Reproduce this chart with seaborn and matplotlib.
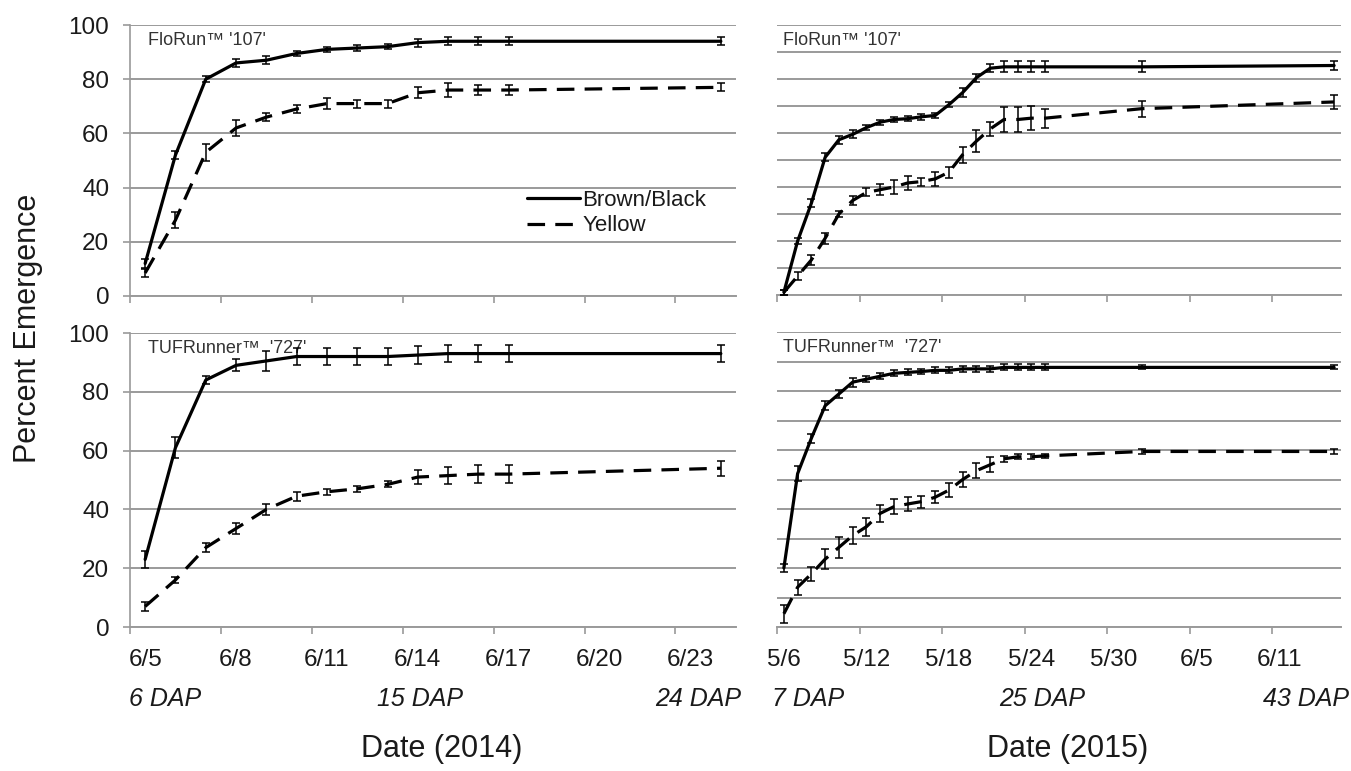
import numpy as np
import pandas as pd
import matplotlib
matplotlib.use('Agg')
import matplotlib.pyplot as plt
from matplotlib.lines import Line2D
from matplotlib.ticker import FixedLocator
import seaborn as sns

sns.set_style("white")
plt.rcParams['font.family'] = ['Liberation Sans', 'DejaVu Sans']

# ---- data (x = day index from the first date of each season) ----
# 2014: 6/5 ... 6/17 daily, then 6/24
days_2014 = [0, 1, 2, 3, 4, 5, 6, 7, 8, 9, 10, 11, 12, 19]
ticks_2014 = ['6/5', '6/8', '6/11', '6/14', '6/17', '6/20', '6/23']

florun14_bb = [12, 52, 80, 86, 87, 89.5, 91, 91.5, 92, 93.5, 94, 94, 94, 94]
florun14_bb_err = [1.5, 1.5, 1, 1.5, 1.5, 1, 1, 1, 1, 1.5, 1.5, 1.5, 1.5, 1.5]
florun14_y = [8.5, 28, 53, 62, 66, 69, 71, 71, 71, 75, 76, 76, 76, 77]
florun14_y_err = [1.5, 3, 3, 3, 1.5, 1.5, 2, 1.5, 1.5, 2, 2.5, 2, 2, 1.5]

tuf14_bb = [23, 61, 84, 89, 90.5, 92, 92, 92, 92, 92.5, 93, 93, 93, 93]
tuf14_bb_err = [3, 3.5, 1.5, 2, 3.5, 3, 3, 3, 3, 3, 3, 3, 3, 3]
tuf14_y = [7, 16, 27, 33.5, 40, 44.5, 46, 47, 48.5, 51, 51.5, 52, 52, 54]
tuf14_y_err = [1.5, 1, 1.5, 2, 2, 1.5, 1, 1, 1, 2.5, 3, 3, 3, 2.5]

# 2015: 5/6 ... 5/25 daily, then 6/1 and 6/15
days_2015 = list(range(20)) + [26, 40]
ticks_2015 = ['5/6', '5/12', '5/18', '5/24', '5/30', '6/5', '6/11']

florun15_bb = [1, 20, 34, 51, 57.5, 59.5, 62, 64, 65, 65.3, 66, 66.5, 70.5, 75,
               80.5, 84, 84.5, 84.5, 84.5, 84.5, 84.5, 85]
florun15_bb_err = [1, 1, 1.5, 1.5, 1.5, 1.5, 1, 1, 1, 1, 1, 1, 1, 1.5, 1.5, 1.5,
                   2, 2, 2, 2, 2, 1.5]
florun15_y = [1, 7, 13, 21, 30, 35, 38, 39, 40, 41.5, 42, 43, 45.5, 52, 57, 61.5,
              65, 65, 65.5, 65.5, 69, 71.5]
florun15_y_err = [1, 1.5, 2, 2, 1, 1.5, 1.5, 2, 2.5, 2.5, 1.5, 2.5, 2, 3, 4, 2.5,
                  4.5, 4.5, 4.5, 3.5, 3, 2.5]

tuf15_bb = [20, 52, 64, 75, 79, 83, 84, 85, 86, 86.3, 86.6, 87, 87, 87.5, 87.5,
            87.5, 88, 88, 88, 88, 88, 88]
tuf15_bb_err = [1.5, 2.5, 1.5, 1.5, 1.5, 1.5, 1, 1, 1, 1, 1, 1, 1, 1, 1, 1, 1, 1,
                1, 1, 0.7, 0.7]
tuf15_y = [4.5, 13.5, 18, 23, 27, 31, 34, 38.5, 40.8, 41.7, 42.5, 44, 46.4, 50,
           53, 55, 57, 57.7, 57.7, 58, 59.5, 59.5]
tuf15_y_err = [3, 2.5, 2.5, 3.5, 3.5, 3, 3, 3, 2.5, 2.5, 2, 2, 2.5, 2.5, 2.5, 2.5,
               1, 0.8, 0.8, 0.8, 0.7, 1]

GRID = '#9a9a9a'
TXT = '#1a1a1a'
DASH = (5.5, 3.2)


def draw_panel(ax, days, bb, bb_err, yel, yel_err, n_days, step, labels, title,
               left_panel, show_labels):
    df = pd.DataFrame({
        'day': list(days) * 2,
        'pct': list(bb) + list(yel),
        'seed': ['Brown/Black'] * len(days) + ['Yellow'] * len(days),
    })
    sns.lineplot(data=df, x='day', y='pct', style='seed',
                 dashes={'Brown/Black': '', 'Yellow': DASH},
                 color='black', lw=2.3, legend=False, ax=ax, zorder=3)
    ax.errorbar(days, bb, yerr=bb_err, fmt='none', ecolor='black',
                elinewidth=1.1, capsize=3.2, capthick=1.1, zorder=4)
    ax.errorbar(days, yel, yerr=yel_err, fmt='none', ecolor='black',
                elinewidth=1.1, capsize=3.2, capthick=1.1, zorder=4)

    ax.set_xlim(-0.5, n_days - 0.5)
    ax.set_ylim(0, 100)
    ax.set_xlabel('')
    ax.set_ylabel('')

    # labels sit at band centres, tick marks at band edges
    ax.xaxis.set_major_locator(FixedLocator([i * step for i in range(len(labels))]))
    ax.xaxis.set_minor_locator(FixedLocator([i * step - 0.5 for i in range(len(labels))]))
    if show_labels:
        ax.set_xticklabels(labels)
    else:
        ax.set_xticklabels([])
    ax.tick_params(axis='x', which='major', length=0, pad=16, labelsize=17.5,
                   labelcolor=TXT)
    ax.tick_params(axis='x', which='minor', length=5, width=1.2, color=GRID,
                   direction='out', bottom=True)

    if left_panel:
        ax.set_yticks(range(0, 101, 20))
        ax.tick_params(axis='y', length=5, width=1.2, color=GRID, direction='out',
                       pad=10, labelsize=17.5, labelcolor=TXT, left=True)
    else:
        ax.set_yticks(range(0, 101, 10))
        ax.set_yticklabels([])
        ax.tick_params(axis='y', length=0)

    ax.grid(axis='y', color=GRID, lw=1.4)
    ax.grid(axis='x', visible=False)
    ax.set_axisbelow(True)
    for side in ['top', 'right']:
        ax.spines[side].set_visible(False)
    ax.spines['bottom'].set_color(GRID)
    ax.spines['bottom'].set_linewidth(1.4)
    if left_panel:
        ax.spines['left'].set_color(GRID)
        ax.spines['left'].set_linewidth(1.2)
    else:
        ax.spines['left'].set_visible(False)

    ax.text(0.03 if left_panel else 0.01, 0.975, title, transform=ax.transAxes,
            ha='left', va='top', fontsize=13, color='#333333')


fig = plt.figure(figsize=(13.51, 7.71), dpi=100)
W, H = 1351.0, 771.0


def add_axes(x0, x1, ytop, ybot):
    return fig.add_axes([x0 / W, 1 - ybot / H, (x1 - x0) / W, (ybot - ytop) / H])


ax_tl = add_axes(130, 736, 25, 296)
ax_bl = add_axes(130, 736, 333, 627)
ax_tr = add_axes(777, 1341, 25, 295)
ax_br = add_axes(777, 1341, 332, 627)

draw_panel(ax_tl, days_2014, florun14_bb, florun14_bb_err, florun14_y, florun14_y_err,
           20, 3, ticks_2014, "FloRun\u2122 '107'", True, False)
draw_panel(ax_bl, days_2014, tuf14_bb, tuf14_bb_err, tuf14_y, tuf14_y_err,
           20, 3, ticks_2014, "TUFRunner\u2122  '727'", True, True)
draw_panel(ax_tr, days_2015, florun15_bb, florun15_bb_err, florun15_y, florun15_y_err,
           41, 6, ticks_2015, "FloRun\u2122 '107'", False, False)
draw_panel(ax_br, days_2015, tuf15_bb, tuf15_bb_err, tuf15_y, tuf15_y_err,
           41, 6, ticks_2015, "TUFRunner\u2122  '727'", False, True)

handles = [Line2D([], [], color='black', lw=2.3),
           Line2D([], [], color='black', lw=2.3, dashes=DASH)]
leg = ax_tl.legend(handles, ['Brown/Black', 'Yellow'], loc='center left',
                   bbox_to_anchor=(0.655, 0.306), frameon=False, fontsize=16,
                   handlelength=2.4, handletextpad=0.1, labelspacing=0.2,
                   borderpad=0, borderaxespad=0)
for t in leg.get_texts():
    t.set_color(TXT)

# DAP labels under the date ticks
dap_y = 1 - 699 / H
dap = dict(va='center', fontsize=18, style='italic', color=TXT)
fig.text(129 / W, dap_y, '6 DAP', ha='left', **dap)
fig.text(420 / W, dap_y, '15 DAP', ha='center', **dap)
fig.text(741 / W, dap_y, '24 DAP', ha='right', **dap)
fig.text(772 / W, dap_y, '7 DAP', ha='left', **dap)
fig.text(1042 / W, dap_y, '25 DAP', ha='center', **dap)
fig.text(1349 / W, dap_y, '43 DAP', ha='right', **dap)

fig.text(442 / W, 1 - 749 / H, 'Date (2014)', ha='center', va='center',
         fontsize=22, color=TXT)
fig.text(1068 / W, 1 - 749 / H, 'Date (2015)', ha='center', va='center',
         fontsize=22, color=TXT)
fig.text(28 / W, 1 - 328 / H, 'Percent Emergence', ha='center', va='center',
         rotation=90, fontsize=22, color=TXT)

fig.savefig('out.png', dpi=100)
